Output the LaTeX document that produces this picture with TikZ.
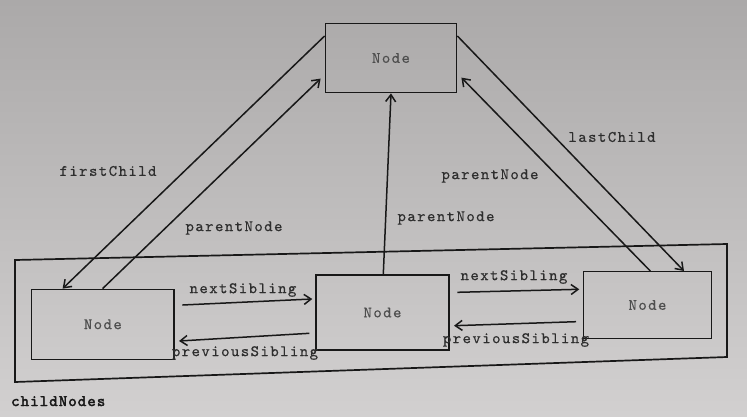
\documentclass[tikz,border=0pt]{standalone}
\usepackage{fontspec}
\usetikzlibrary{arrows.meta}
\definecolor{linecol}{HTML}{181818}
\definecolor{txtcol}{HTML}{2E2E2E}
\definecolor{nodetxt}{HTML}{4E4E4E}
\definecolor{bgtop}{HTML}{ABA9A9}
\definecolor{bgbot}{HTML}{D2D0D0}
\newfontfamily\lblfamily[Extension=.otf, LetterSpace=9, FakeBold=0.5]{lmmono10-regular}
\newfontfamily\cnfamily[Extension=.otf, LetterSpace=7, FakeBold=2.6]{lmmono10-regular}
\newcommand{\lblfont}{\lblfamily\fontsize{16}{18}\selectfont}
\newcommand{\cnfont}{\cnfamily\fontsize{16}{18}\selectfont}
\begin{document}
\begin{tikzpicture}[x=1pt,y=-1pt,
  nodebox/.style={draw=linecol, line width=1.4pt, inner sep=0pt,
    font=\lblfont, text=nodetxt},
  lbl/.style={font=\lblfont, text=txtcol, inner sep=0pt},
  arr/.style={draw=linecol, line width=1.5pt, -{Straight Barb[length=7pt,width=10pt]}},
  frame/.style={draw=linecol, line width=1.7pt}]
\useasboundingbox (0,0) rectangle (747,416);
\shade[top color=bgtop, bottom color=bgbot] (0,0) rectangle (747,416);
% outer childNodes frame
\draw[frame] (15,260) -- (727,244) -- (727,357) -- (15,382) -- cycle;
% nodes
\node[nodebox, minimum width=131.4pt, minimum height=69.4pt] (top) at (391,58) {Node};
\node[nodebox, minimum width=142.3pt, minimum height=70pt] (lft) at (102.85,324.3) {Node};
\node[nodebox, minimum width=133pt, minimum height=75pt] (mid) at (382.5,312.5) {Node};
\node[nodebox, minimum width=128.4pt, minimum height=66.6pt] (rgt) at (647.5,305) {Node};
% parent/child connectors
\draw[arr] ([yshift=-13.4pt]top.north west) -- ([xshift=31.6pt]lft.north west);
\draw[arr] ([xshift=71.6pt]lft.north west) -- ([xshift=-4pt,yshift=-56pt]top.north west);
\draw[arr] ([xshift=68pt]mid.north west) -- (top.south);
\draw[arr] ([xshift=67.7pt]rgt.north west) -- ([xshift=4pt,yshift=-55pt]top.north east);
\draw[arr] ([yshift=-13.4pt]top.north east) -- ([xshift=-28.4pt]rgt.north east);
% sibling connectors
\draw[arr] ([xshift=7.7pt,yshift=19.3pt]lft.east) -- ([xshift=-3pt,yshift=13.5pt]mid.west);
\draw[arr] ([xshift=-6pt,yshift=-20.8pt]mid.west) -- ([xshift=4.3pt,yshift=-16.7pt]lft.east);
\draw[arr] ([xshift=7.7pt,yshift=20.2pt]mid.east) -- ([xshift=-3.3pt,yshift=15.7pt]rgt.west);
\draw[arr] ([xshift=-6.6pt,yshift=-16.7pt]rgt.west) -- ([xshift=4.3pt,yshift=-13.2pt]mid.east);
% labels
\node[lbl] (lfc) at (108,171) {firstChild};
\node[lbl] (lpl) at (234,228) {parentNode};
\node[lbl] (lpm) at (446,218) {parentNode};
\node[lbl] (lpr) at (490,176) {parentNode};
\node[lbl] (llc) at (612,137) {lastChild};
\node[lbl] (lns1) at (243,290) {nextSibling};
\node[lbl] (lps1) at (245,353) {previousSibling};
\node[lbl] (lns2) at (514,277) {nextSibling};
\node[lbl] (lps2) at (516,340) {previousSibling};
\node[lbl, anchor=base west, font=\cnfont, text=linecol] (lcn) at (11,406) {childNodes};
\end{tikzpicture}
\end{document}
